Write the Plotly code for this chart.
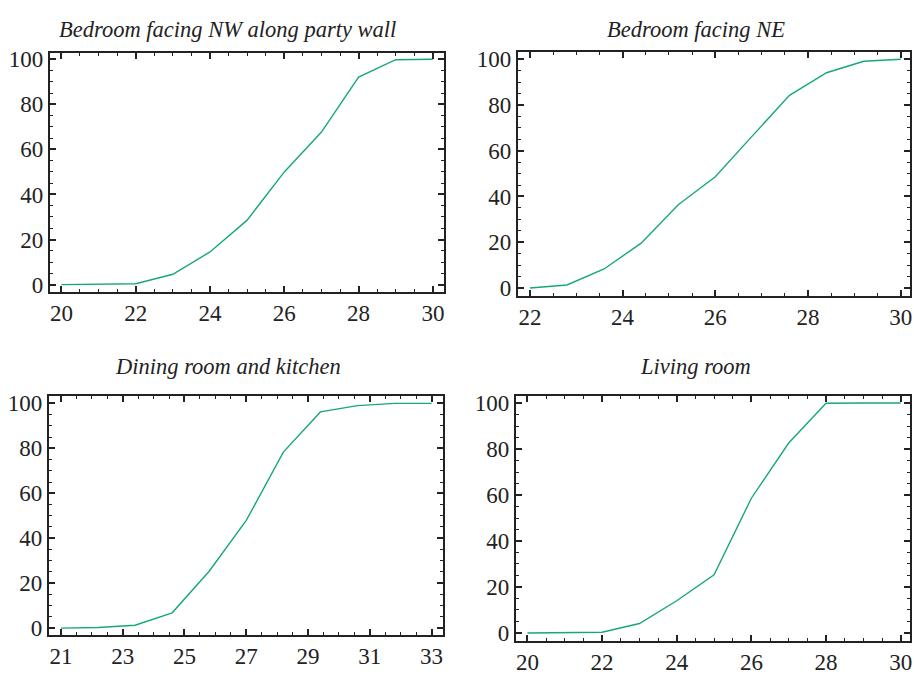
import plotly.graph_objects as go

W, H = 914, 675

titles = ["Bedroom facing NW along party wall", "Bedroom facing NE",
          "Dining room and kitchen", "Living room"]

x_nw = [20, 21, 22, 23, 24, 25, 26, 27, 28, 29, 30]
y_nw = [0, 0.2, 0.4, 4.6, 14.5, 28.6, 50, 67.7, 92.1, 99.8, 100]

x_ne = [22, 22.8, 23.6, 24.4, 25.2, 26, 26.8, 27.6, 28.4, 29.2, 30]
y_ne = [0, 1.3, 8.3, 19.6, 36.4, 48.6, 66.5, 84.2, 94.1, 99.1, 100]

x_dk = [21, 22.2, 23.4, 24.6, 25.8, 27, 28.2, 29.4, 30.6, 31.8, 33]
y_dk = [0, 0.3, 1.3, 6.8, 25.3, 47.9, 78.3, 96.2, 99.0, 100, 100]

x_lr = [20, 21, 22, 23, 24, 25, 26, 27, 28, 29, 30]
y_lr = [0, 0, 0.3, 4.1, 14.0, 25.3, 58.6, 82.6, 99.9, 100, 100]

series = [(x_nw, y_nw), (x_ne, y_ne), (x_dk, y_dk), (x_lr, y_lr)]

# pixel boxes: (left, right, top, bottom)
boxes = [(50, 445, 48, 291), (519, 912, 47, 295), (49, 444, 397, 640), (517, 912, 397, 646)]
xranges = [[19.69, 30.3], [21.74, 30.2], [20.61, 33.37], [19.69, 30.25]]
yranges = [[-3.2, 102.7], [-3.4, 103.1], [-2.9, 103.3], [-3.3, 103.1]]
xtick0 = [20, 22, 21, 20]
title_pos = [(228, 24), (698, 24), (228, 367), (697, 367)]

LINE = "#17a878"
AX = "#222222"
FONT = "Liberation Serif, Times New Roman, serif"
TICK_SIZE = 23
TITLE_SIZE = 22.5

fig = go.Figure()
layout = dict(width=W, height=H, margin=dict(l=0, r=0, t=0, b=0),
              paper_bgcolor="white", plot_bgcolor="white", showlegend=False,
              font=dict(family=FONT, color=AX, size=TICK_SIZE))
annotations = []
for i, ((xs, ys), (l, r, t, b)) in enumerate(zip(series, boxes)):
    k = "" if i == 0 else str(i + 1)
    fig.add_trace(go.Scatter(x=xs, y=ys, mode="lines", line=dict(color=LINE, width=1.4),
                             xaxis="x" + k, yaxis="y" + k, hoverinfo="skip"))
    layout["xaxis" + k] = dict(domain=[l / W, r / W], anchor="y" + k, range=xranges[i],
                               tick0=xtick0[i], dtick=2, ticks="inside", ticklen=6,
                               tickwidth=1.5, tickcolor=AX, showline=True, linewidth=2,
                               linecolor=AX, mirror="allticks", showgrid=False, zeroline=False,
                               ticklabeloverflow="allow",
                               tickfont=dict(family=FONT, size=TICK_SIZE, color=AX),
                               minor=dict(dtick=0.5, tick0=xtick0[i], ticks="inside", ticklen=3,
                                          tickwidth=1.2, tickcolor=AX, showgrid=False))
    layout["yaxis" + k] = dict(domain=[1 - b / H, 1 - t / H], anchor="x" + k, range=yranges[i],
                               tick0=0, dtick=20, ticks="inside", ticklen=6,
                               tickwidth=1.5, tickcolor=AX, showline=True, linewidth=2,
                               linecolor=AX, mirror="allticks", showgrid=False, zeroline=False,
                               ticklabeloverflow="allow",
                               tickfont=dict(family=FONT, size=TICK_SIZE, color=AX),
                               minor=dict(dtick=5, tick0=0, ticks="inside", ticklen=3,
                                          tickwidth=1.2, tickcolor=AX, showgrid=False))
    tx, ty = title_pos[i]
    annotations.append(dict(text="<i>" + titles[i] + "</i>", x=tx / W, y=1 - ty / H,
                            xref="paper", yref="paper", showarrow=False,
                            xanchor="center", yanchor="middle",
                            font=dict(family=FONT, size=TITLE_SIZE, color=AX)))
layout["annotations"] = annotations
fig.update_layout(**layout)
fig.write_html("out.html")
